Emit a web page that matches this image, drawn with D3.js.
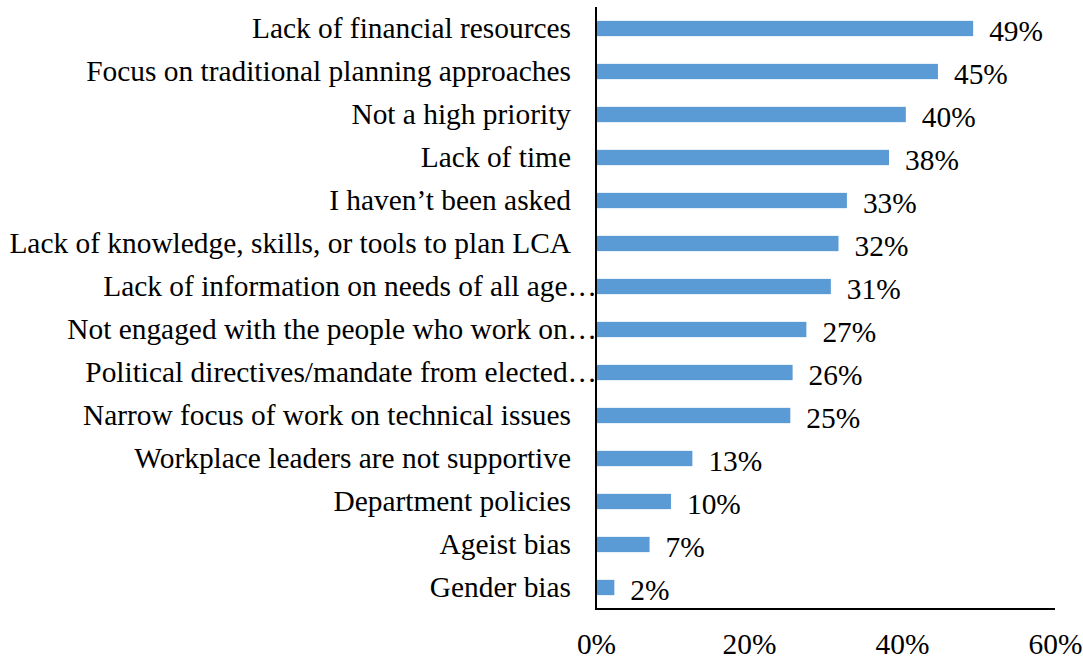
<!DOCTYPE html>
<html>
<head>
<meta charset="utf-8">
<script src="https://cdn.jsdelivr.net/npm/d3@7"></script>
<style>
  body { margin: 0; background: #fff; }
  svg text { font-family: "Liberation Serif", "Times New Roman", serif; fill: #000; }
</style>
</head>
<body>
<div id="chart"></div>
<script>
const categories = [
    "Lack of financial resources",
    "Focus on traditional planning approaches",
    "Not a high priority",
    "Lack of time",
    "I haven\u2019t been asked",
    "Lack of knowledge, skills, or tools to plan LCA",
    "Lack of information on needs of all age\u2026",
    "Not engaged with the people who work on\u2026",
    "Political directives/mandate from elected\u2026",
    "Narrow focus of work on technical issues",
    "Workplace leaders are not supportive",
    "Department policies",
    "Ageist bias",
    "Gender bias"
];
const values = [49.3, 44.7, 40.5, 38.3, 32.8, 31.7, 30.7, 27.5, 25.7, 25.4, 12.6, 9.8, 7.0, 2.4];
const valueLabels = ["49%", "45%", "40%", "38%", "33%", "32%", "31%", "27%", "26%", "25%", "13%", "10%", "7%", "2%"];
const xTicks = [0, 20, 40, 60];

const width = 1083, height = 660;
const fontSize = 29.4;

const svg = d3.select("#chart").append("svg")
    .attr("width", width)
    .attr("height", height);

const x = d3.scaleLinear()
    .domain([0, 60])
    .range([596, 1055]);

const y = d3.scaleBand()
    .domain(categories)
    .range([7, 609])
    .paddingInner(0.644)
    .paddingOuter(0.322);

// bars
svg.selectAll("rect.bar")
    .data(values)
    .enter().append("rect")
    .attr("class", "bar")
    .attr("x", x(0))
    .attr("y", (d, i) => y(categories[i]))
    .attr("width", d => x(d) - x(0))
    .attr("height", y.bandwidth())
    .attr("fill", "#5B9BD5");

// value labels
svg.selectAll("text.val")
    .data(values)
    .enter().append("text")
    .attr("class", "val")
    .attr("x", d => x(d) + 16)
    .attr("y", (d, i) => y(categories[i]) + y.bandwidth() / 2 + 12)
    .style("font-size", fontSize + "px")
    .text((d, i) => valueLabels[i]);

// category labels (truncated ones run up to the axis, like Excel does)
svg.selectAll("text.cat")
    .data(categories)
    .enter().append("text")
    .attr("class", "cat")
    .attr("x", d => d.endsWith("\u2026") ? 597 : 571)
    .attr("y", d => y(d) + y.bandwidth() / 2 + 9)
    .attr("text-anchor", "end")
    .style("font-size", fontSize + "px")
    .text(d => d);

// x axis
const xAxis = svg.append("g")
    .attr("transform", "translate(0,609)")
    .call(d3.axisBottom(x).tickValues(xTicks).tickSize(0).tickPadding(0).tickFormat(d => d + "%"));
xAxis.select(".domain").remove();
xAxis.selectAll("text")
    .attr("y", 45)
    .attr("dy", null)
    .style("font-size", fontSize + "px")
    .style("font-family", "'Liberation Serif', 'Times New Roman', serif")
    .attr("fill", "#000");

// axis lines
svg.append("line")
    .attr("x1", x(0)).attr("x2", x(0))
    .attr("y1", 7).attr("y2", 610)
    .attr("stroke", "#000").attr("stroke-width", 2);
svg.append("line")
    .attr("x1", x(0) - 1).attr("x2", x(60))
    .attr("y1", 609).attr("y2", 609)
    .attr("stroke", "#000").attr("stroke-width", 2);
</script>
</body>
</html>
